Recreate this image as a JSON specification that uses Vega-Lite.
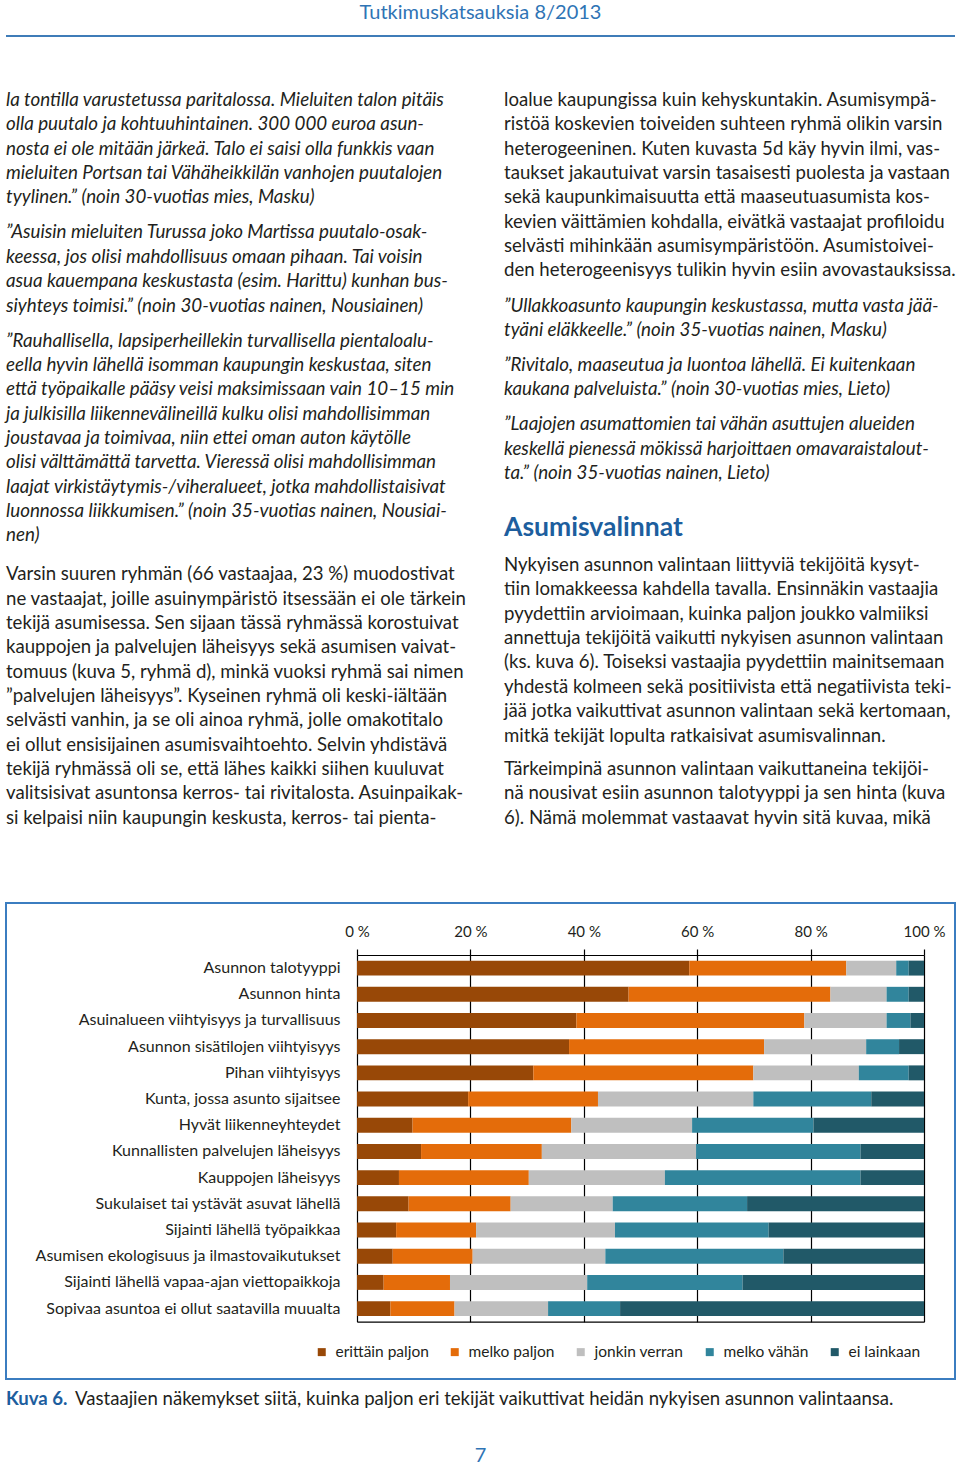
{
  "$schema": "https://vega.github.io/schema/vega-lite/v6.json",
  "padding": {"left": 5, "top": 0, "right": 5, "bottom": 0},
  "autosize": {"type": "pad"},
  "background": "white",
  "spacing": 0,
  "config": {"font": "Lato", "view": {"stroke": null}},
  "vconcat": [
    {
      "width": 949,
      "height": 902,
      "data": {"values": [
        {"col": "H", "line": -3.58, "kind": "header", "text": "Tutkimuskatsauksia 8/2013"},
        {"col": "L", "line": 0, "kind": "quote", "text": "la tontilla varustetussa paritalossa. Mieluiten talon pitäis"},
        {"col": "L", "line": 1, "kind": "quote", "text": "olla puutalo ja kohtuuhintainen. 300 000 euroa asun-"},
        {"col": "L", "line": 2, "kind": "quote", "text": "nosta ei ole mitään järkeä. Talo ei saisi olla funkkis vaan"},
        {"col": "L", "line": 3, "kind": "quote", "text": "mieluiten Portsan tai Vähäheikkilän vanhojen puutalojen"},
        {"col": "L", "line": 4, "kind": "quote", "text": "tyylinen.” (noin 30-vuotias mies, Masku)"},
        {"col": "L", "line": 5.44, "kind": "quote", "text": "”Asuisin mieluiten Turussa joko Martissa puutalo-osak-"},
        {"col": "L", "line": 6.44, "kind": "quote", "text": "keessa, jos olisi mahdollisuus omaan pihaan. Tai voisin"},
        {"col": "L", "line": 7.44, "kind": "quote", "text": "asua kauempana keskustasta (esim. Harittu) kunhan bus-"},
        {"col": "L", "line": 8.44, "kind": "quote", "text": "siyhteys toimisi.” (noin 30-vuotias nainen, Nousiainen)"},
        {"col": "L", "line": 9.88, "kind": "quote", "text": "”Rauhallisella, lapsiperheillekin turvallisella pientaloalu-"},
        {"col": "L", "line": 10.88, "kind": "quote", "text": "eella hyvin lähellä isomman kaupungin keskustaa, siten"},
        {"col": "L", "line": 11.88, "kind": "quote", "text": "että työpaikalle pääsy veisi maksimissaan vain 10–15 min"},
        {"col": "L", "line": 12.88, "kind": "quote", "text": "ja julkisilla liikennevälineillä kulku olisi mahdollisimman"},
        {"col": "L", "line": 13.88, "kind": "quote", "text": "joustavaa ja toimivaa, niin ettei oman auton käytölle"},
        {"col": "L", "line": 14.88, "kind": "quote", "text": "olisi välttämättä tarvetta. Vieressä olisi mahdollisimman"},
        {"col": "L", "line": 15.88, "kind": "quote", "text": "laajat virkistäytymis-/viheralueet, jotka mahdollistaisivat"},
        {"col": "L", "line": 16.88, "kind": "quote", "text": "luonnossa liikkumisen.” (noin 35-vuotias nainen, Nousiai-"},
        {"col": "L", "line": 17.88, "kind": "quote", "text": "nen)"},
        {"col": "L", "line": 19.48, "kind": "body", "text": "Varsin suuren ryhmän (66 vastaajaa, 23 %) muodostivat"},
        {"col": "L", "line": 20.48, "kind": "body", "text": "ne vastaajat, joille asuinympäristö itsessään ei ole tärkein"},
        {"col": "L", "line": 21.48, "kind": "body", "text": "tekijä asumisessa. Sen sijaan tässä ryhmässä korostuivat"},
        {"col": "L", "line": 22.48, "kind": "body", "text": "kauppojen ja palvelujen läheisyys sekä asumisen vaivat-"},
        {"col": "L", "line": 23.48, "kind": "body", "text": "tomuus (kuva 5, ryhmä d), minkä vuoksi ryhmä sai nimen"},
        {"col": "L", "line": 24.48, "kind": "body", "text": "”palvelujen läheisyys”. Kyseinen ryhmä oli keski-iältään"},
        {"col": "L", "line": 25.48, "kind": "body", "text": "selvästi vanhin, ja se oli ainoa ryhmä, jolle omakotitalo"},
        {"col": "L", "line": 26.48, "kind": "body", "text": "ei ollut ensisijainen asumisvaihtoehto. Selvin yhdistävä"},
        {"col": "L", "line": 27.48, "kind": "body", "text": "tekijä ryhmässä oli se, että lähes kaikki siihen kuuluvat"},
        {"col": "L", "line": 28.48, "kind": "body", "text": "valitsisivat asuntonsa kerros- tai rivitalosta. Asuinpaikak-"},
        {"col": "L", "line": 29.48, "kind": "body", "text": "si kelpaisi niin kaupungin keskusta, kerros- tai pienta-"},
        {"col": "R", "line": 0, "kind": "body", "text": "loalue kaupungissa kuin kehyskuntakin. Asumisympä-"},
        {"col": "R", "line": 1, "kind": "body", "text": "ristöä koskevien toiveiden suhteen ryhmä olikin varsin"},
        {"col": "R", "line": 2, "kind": "body", "text": "heterogeeninen. Kuten kuvasta 5d käy hyvin ilmi, vas-"},
        {"col": "R", "line": 3, "kind": "body", "text": "taukset jakautuivat varsin tasaisesti puolesta ja vastaan"},
        {"col": "R", "line": 4, "kind": "body", "text": "sekä kaupunkimaisuutta että maaseutuasumista kos-"},
        {"col": "R", "line": 5, "kind": "body", "text": "kevien väittämien kohdalla, eivätkä vastaajat profiloidu"},
        {"col": "R", "line": 6, "kind": "body", "text": "selvästi mihinkään asumisympäristöön. Asumistoivei-"},
        {"col": "R", "line": 7, "kind": "body", "text": "den heterogeenisyys tulikin hyvin esiin avovastauksissa."},
        {"col": "R", "line": 8.44, "kind": "quote", "text": "”Ullakkoasunto kaupungin keskustassa, mutta vasta jää-"},
        {"col": "R", "line": 9.44, "kind": "quote", "text": "tyäni eläkkeelle.” (noin 35-vuotias nainen, Masku)"},
        {"col": "R", "line": 10.88, "kind": "quote", "text": "”Rivitalo, maaseutua ja luontoa lähellä. Ei kuitenkaan"},
        {"col": "R", "line": 11.88, "kind": "quote", "text": "kaukana palveluista.” (noin 30-vuotias mies, Lieto)"},
        {"col": "R", "line": 13.32, "kind": "quote", "text": "”Laajojen asumattomien tai vähän asuttujen alueiden"},
        {"col": "R", "line": 14.32, "kind": "quote", "text": "keskellä pienessä mökissä harjoittaen omavaraistalout-"},
        {"col": "R", "line": 15.32, "kind": "quote", "text": "ta.” (noin 35-vuotias nainen, Lieto)"},
        {"col": "R", "line": 17.58, "kind": "heading", "text": "Asumisvalinnat"},
        {"col": "R", "line": 19.1, "kind": "body", "text": "Nykyisen asunnon valintaan liittyviä tekijöitä kysyt-"},
        {"col": "R", "line": 20.1, "kind": "body", "text": "tiin lomakkeessa kahdella tavalla. Ensinnäkin vastaajia"},
        {"col": "R", "line": 21.1, "kind": "body", "text": "pyydettiin arvioimaan, kuinka paljon joukko valmiiksi"},
        {"col": "R", "line": 22.1, "kind": "body", "text": "annettuja tekijöitä vaikutti nykyisen asunnon valintaan"},
        {"col": "R", "line": 23.1, "kind": "body", "text": "(ks. kuva 6). Toiseksi vastaajia pyydettiin mainitsemaan"},
        {"col": "R", "line": 24.1, "kind": "body", "text": "yhdestä kolmeen sekä positiivista että negatiivista teki-"},
        {"col": "R", "line": 25.1, "kind": "body", "text": "jää jotka vaikuttivat asunnon valintaan sekä kertomaan,"},
        {"col": "R", "line": 26.1, "kind": "body", "text": "mitkä tekijät lopulta ratkaisivat asumisvalinnan."},
        {"col": "R", "line": 27.47, "kind": "body", "text": "Tärkeimpinä asunnon valintaan vaikuttaneina tekijöi-"},
        {"col": "R", "line": 28.47, "kind": "body", "text": "nä nousivat esiin asunnon talotyyppi ja sen hinta (kuva"},
        {"col": "R", "line": 29.47, "kind": "body", "text": "6). Nämä molemmat vastaavat hyvin sitä kuvaa, mikä"}
      ]},
      "resolve": {"scale": {"x": "independent"}},
      "layer": [
        {
          "transform": [{"filter": "datum.kind === 'body'"}],
          "mark": {"type": "text", "align": "left", "baseline": "middle", "fontSize": 18.6, "color": "#231f20"},
          "encoding": {
            "x": {"field": "col", "type": "nominal", "scale": {"type": "point", "domain": ["L", "R"], "range": [0, 498], "padding": 0}, "axis": null},
            "y": {"field": "line", "type": "quantitative", "scale": {"domain": [-4.107, 32.936], "reverse": true, "nice": false, "zero": false}, "axis": null},
            "text": {"field": "text"}
          }
        },
        {
          "transform": [{"filter": "datum.kind === 'quote'"}],
          "mark": {"type": "text", "align": "left", "baseline": "middle", "fontSize": 18.8, "fontStyle": "italic", "color": "#231f20"},
          "encoding": {
            "x": {"field": "col", "type": "nominal", "scale": {"type": "point", "domain": ["L", "R"], "range": [0, 498], "padding": 0}, "axis": null},
            "y": {"field": "line", "type": "quantitative", "axis": null},
            "text": {"field": "text"}
          }
        },
        {
          "transform": [{"filter": "datum.kind === 'heading'"}],
          "mark": {"type": "text", "align": "left", "baseline": "middle", "fontSize": 26.5, "fontWeight": "bold", "color": "#1d5e9e"},
          "encoding": {
            "x": {"field": "col", "type": "nominal", "scale": {"type": "point", "domain": ["L", "R"], "range": [0, 498], "padding": 0}, "axis": null},
            "y": {"field": "line", "type": "quantitative", "axis": null},
            "text": {"field": "text"}
          }
        },
        {
          "transform": [{"filter": "datum.kind === 'header'"}],
          "mark": {"type": "text", "align": "center", "baseline": "middle", "fontSize": 20, "color": "#2f74b5"},
          "encoding": {
            "x": {"field": "col", "type": "nominal", "scale": {"type": "point", "domain": ["H"]}, "axis": null},
            "y": {"field": "line", "type": "quantitative", "axis": null},
            "text": {"field": "text"}
          }
        },
        {
          "data": {"values": [{"line": -2.63}]},
          "mark": {"type": "rule", "color": "#3f7cb8", "strokeWidth": 2},
          "encoding": {
            "y": {"field": "line", "type": "quantitative", "axis": null}
          }
        }
      ]
    },
    {
      "width": 949,
      "height": 476,
      "view": {"stroke": "#3b7dc0", "strokeWidth": 2},
      "layer": [
        {
          "data": {"values": [
            {"f": "Asunnon talotyyppi", "l": "erittäin paljon", "k": 1, "v": 58.6},
            {"f": "Asunnon talotyyppi", "l": "melko paljon", "k": 2, "v": 27.7},
            {"f": "Asunnon talotyyppi", "l": "jonkin verran", "k": 3, "v": 8.8},
            {"f": "Asunnon talotyyppi", "l": "melko vähän", "k": 4, "v": 2.2},
            {"f": "Asunnon talotyyppi", "l": "ei lainkaan", "k": 5, "v": 2.7},
            {"f": "Asunnon hinta", "l": "erittäin paljon", "k": 1, "v": 47.9},
            {"f": "Asunnon hinta", "l": "melko paljon", "k": 2, "v": 35.6},
            {"f": "Asunnon hinta", "l": "jonkin verran", "k": 3, "v": 9.9},
            {"f": "Asunnon hinta", "l": "melko vähän", "k": 4, "v": 3.9},
            {"f": "Asunnon hinta", "l": "ei lainkaan", "k": 5, "v": 2.7},
            {"f": "Asuinalueen viihtyisyys ja turvallisuus", "l": "erittäin paljon", "k": 1, "v": 38.7},
            {"f": "Asuinalueen viihtyisyys ja turvallisuus", "l": "melko paljon", "k": 2, "v": 40.2},
            {"f": "Asuinalueen viihtyisyys ja turvallisuus", "l": "jonkin verran", "k": 3, "v": 14.5},
            {"f": "Asuinalueen viihtyisyys ja turvallisuus", "l": "melko vähän", "k": 4, "v": 4.2},
            {"f": "Asuinalueen viihtyisyys ja turvallisuus", "l": "ei lainkaan", "k": 5, "v": 2.4},
            {"f": "Asunnon sisätilojen viihtyisyys", "l": "erittäin paljon", "k": 1, "v": 37.4},
            {"f": "Asunnon sisätilojen viihtyisyys", "l": "melko paljon", "k": 2, "v": 34.4},
            {"f": "Asunnon sisätilojen viihtyisyys", "l": "jonkin verran", "k": 3, "v": 18.0},
            {"f": "Asunnon sisätilojen viihtyisyys", "l": "melko vähän", "k": 4, "v": 5.8},
            {"f": "Asunnon sisätilojen viihtyisyys", "l": "ei lainkaan", "k": 5, "v": 4.4},
            {"f": "Pihan viihtyisyys", "l": "erittäin paljon", "k": 1, "v": 31.1},
            {"f": "Pihan viihtyisyys", "l": "melko paljon", "k": 2, "v": 38.8},
            {"f": "Pihan viihtyisyys", "l": "jonkin verran", "k": 3, "v": 18.6},
            {"f": "Pihan viihtyisyys", "l": "melko vähän", "k": 4, "v": 8.8},
            {"f": "Pihan viihtyisyys", "l": "ei lainkaan", "k": 5, "v": 2.7},
            {"f": "Kunta, jossa asunto sijaitsee", "l": "erittäin paljon", "k": 1, "v": 19.6},
            {"f": "Kunta, jossa asunto sijaitsee", "l": "melko paljon", "k": 2, "v": 22.9},
            {"f": "Kunta, jossa asunto sijaitsee", "l": "jonkin verran", "k": 3, "v": 27.4},
            {"f": "Kunta, jossa asunto sijaitsee", "l": "melko vähän", "k": 4, "v": 20.8},
            {"f": "Kunta, jossa asunto sijaitsee", "l": "ei lainkaan", "k": 5, "v": 9.3},
            {"f": "Hyvät liikenneyhteydet", "l": "erittäin paljon", "k": 1, "v": 9.8},
            {"f": "Hyvät liikenneyhteydet", "l": "melko paljon", "k": 2, "v": 28.0},
            {"f": "Hyvät liikenneyhteydet", "l": "jonkin verran", "k": 3, "v": 21.3},
            {"f": "Hyvät liikenneyhteydet", "l": "melko vähän", "k": 4, "v": 21.4},
            {"f": "Hyvät liikenneyhteydet", "l": "ei lainkaan", "k": 5, "v": 19.5},
            {"f": "Kunnallisten palvelujen läheisyys", "l": "erittäin paljon", "k": 1, "v": 11.3},
            {"f": "Kunnallisten palvelujen läheisyys", "l": "melko paljon", "k": 2, "v": 21.3},
            {"f": "Kunnallisten palvelujen läheisyys", "l": "jonkin verran", "k": 3, "v": 27.2},
            {"f": "Kunnallisten palvelujen läheisyys", "l": "melko vähän", "k": 4, "v": 29.0},
            {"f": "Kunnallisten palvelujen läheisyys", "l": "ei lainkaan", "k": 5, "v": 11.2},
            {"f": "Kauppojen läheisyys", "l": "erittäin paljon", "k": 1, "v": 7.4},
            {"f": "Kauppojen läheisyys", "l": "melko paljon", "k": 2, "v": 22.9},
            {"f": "Kauppojen läheisyys", "l": "jonkin verran", "k": 3, "v": 24.0},
            {"f": "Kauppojen läheisyys", "l": "melko vähän", "k": 4, "v": 34.5},
            {"f": "Kauppojen läheisyys", "l": "ei lainkaan", "k": 5, "v": 11.2},
            {"f": "Sukulaiset tai ystävät asuvat lähellä", "l": "erittäin paljon", "k": 1, "v": 9.1},
            {"f": "Sukulaiset tai ystävät asuvat lähellä", "l": "melko paljon", "k": 2, "v": 18.0},
            {"f": "Sukulaiset tai ystävät asuvat lähellä", "l": "jonkin verran", "k": 3, "v": 18.0},
            {"f": "Sukulaiset tai ystävät asuvat lähellä", "l": "melko vähän", "k": 4, "v": 23.7},
            {"f": "Sukulaiset tai ystävät asuvat lähellä", "l": "ei lainkaan", "k": 5, "v": 31.2},
            {"f": "Sijainti lähellä työpaikkaa", "l": "erittäin paljon", "k": 1, "v": 6.9},
            {"f": "Sijainti lähellä työpaikkaa", "l": "melko paljon", "k": 2, "v": 14.1},
            {"f": "Sijainti lähellä työpaikkaa", "l": "jonkin verran", "k": 3, "v": 24.5},
            {"f": "Sijainti lähellä työpaikkaa", "l": "melko vähän", "k": 4, "v": 27.1},
            {"f": "Sijainti lähellä työpaikkaa", "l": "ei lainkaan", "k": 5, "v": 27.4},
            {"f": "Asumisen ekologisuus ja ilmastovaikutukset", "l": "erittäin paljon", "k": 1, "v": 6.3},
            {"f": "Asumisen ekologisuus ja ilmastovaikutukset", "l": "melko paljon", "k": 2, "v": 14.1},
            {"f": "Asumisen ekologisuus ja ilmastovaikutukset", "l": "jonkin verran", "k": 3, "v": 23.4},
            {"f": "Asumisen ekologisuus ja ilmastovaikutukset", "l": "melko vähän", "k": 4, "v": 31.4},
            {"f": "Asumisen ekologisuus ja ilmastovaikutukset", "l": "ei lainkaan", "k": 5, "v": 24.8},
            {"f": "Sijainti lähellä vapaa-ajan viettopaikkoja", "l": "erittäin paljon", "k": 1, "v": 4.7},
            {"f": "Sijainti lähellä vapaa-ajan viettopaikkoja", "l": "melko paljon", "k": 2, "v": 11.7},
            {"f": "Sijainti lähellä vapaa-ajan viettopaikkoja", "l": "jonkin verran", "k": 3, "v": 24.2},
            {"f": "Sijainti lähellä vapaa-ajan viettopaikkoja", "l": "melko vähän", "k": 4, "v": 27.4},
            {"f": "Sijainti lähellä vapaa-ajan viettopaikkoja", "l": "ei lainkaan", "k": 5, "v": 32.0},
            {"f": "Sopivaa asuntoa ei ollut saatavilla muualta", "l": "erittäin paljon", "k": 1, "v": 5.9},
            {"f": "Sopivaa asuntoa ei ollut saatavilla muualta", "l": "melko paljon", "k": 2, "v": 11.3},
            {"f": "Sopivaa asuntoa ei ollut saatavilla muualta", "l": "jonkin verran", "k": 3, "v": 16.5},
            {"f": "Sopivaa asuntoa ei ollut saatavilla muualta", "l": "melko vähän", "k": 4, "v": 12.7},
            {"f": "Sopivaa asuntoa ei ollut saatavilla muualta", "l": "ei lainkaan", "k": 5, "v": 53.6}
          ]},
          "mark": {"type": "bar"},
          "encoding": {
            "y": {
              "field": "f", "type": "nominal",
              "sort": ["Asunnon talotyyppi", "Asunnon hinta", "Asuinalueen viihtyisyys ja turvallisuus", "Asunnon sisätilojen viihtyisyys", "Pihan viihtyisyys", "Kunta, jossa asunto sijaitsee", "Hyvät liikenneyhteydet", "Kunnallisten palvelujen läheisyys", "Kauppojen läheisyys", "Sukulaiset tai ystävät asuvat lähellä", "Sijainti lähellä työpaikkaa", "Asumisen ekologisuus ja ilmastovaikutukset", "Sijainti lähellä vapaa-ajan viettopaikkoja", "Sopivaa asuntoa ei ollut saatavilla muualta"],
              "scale": {"range": [52, 418.7], "paddingInner": 0.43, "paddingOuter": 0.215},
              "axis": {"orient": "left", "offset": -351, "domain": false, "ticks": false, "grid": false, "labelPadding": 17, "labelFontSize": 16, "labelColor": "#231f20", "labelLimit": 0, "title": null}
            },
            "x": {
              "field": "v", "type": "quantitative", "stack": "zero",
              "scale": {"domain": [0, 100], "range": [351, 918], "nice": false},
              "axis": {"orient": "top", "offset": -52, "values": [0, 20, 40, 60, 80, 100], "labelExpr": "datum.value + ' %'", "grid": true, "gridColor": "#000000", "gridWidth": 1.2, "gridOpacity": 1, "domain": true, "domainColor": "#000000", "domainWidth": 1.2, "ticks": true, "tickColor": "#000000", "tickSize": 6, "tickWidth": 1.2, "labelPadding": 10, "labelFontSize": 15, "labelColor": "#231f20", "labelFlush": false, "title": null}
            },
            "color": {
              "field": "l", "type": "nominal",
              "scale": {"domain": ["erittäin paljon", "melko paljon", "jonkin verran", "melko vähän", "ei lainkaan"], "range": ["#984807", "#e46c0a", "#bfbfbf", "#31859c", "#215968"]},
              "legend": {"orient": "none", "legendX": 308, "legendY": 1344, "direction": "horizontal", "title": null, "symbolType": "square", "symbolSize": 64, "symbolStrokeWidth": 0, "labelFontSize": 15.5, "labelColor": "#231f20", "labelLimit": 0, "columnPadding": 18, "labelOffset": 6, "padding": 0}
            },
            "order": {"field": "k", "type": "quantitative"}
          }
        },
        {
          "data": {"values": [{"v": 0}]},
          "mark": {"type": "point", "opacity": 0},
          "encoding": {
            "x": {"field": "v", "type": "quantitative", "axis": {"orient": "bottom", "offset": -57.3, "labels": false, "ticks": false, "grid": false, "domain": true, "domainColor": "#000000", "domainWidth": 1.2, "title": null}}
          }
        }
      ]
    },
    {
      "width": 949,
      "height": 86,
      "data": {"values": [
        {"slot": "kuva", "row": "cap", "text": "Kuva 6."},
        {"slot": "cap", "row": "cap", "text": "Vastaajien näkemykset siitä, kuinka paljon eri tekijät vaikuttivat heidän nykyisen asunnon valintaansa."},
        {"slot": "page", "row": "page", "text": "7"}
      ]},
      "resolve": {"scale": {"x": "independent"}},
      "layer": [
        {
          "transform": [{"filter": "datum.slot === 'kuva'"}],
          "mark": {"type": "text", "align": "left", "baseline": "middle", "fontSize": 18.6, "fontWeight": "bold", "color": "#1d5e9e"},
          "encoding": {
            "x": {"field": "slot", "type": "nominal", "scale": {"type": "point", "domain": ["kuva", "cap"], "range": [0, 69], "padding": 0}, "axis": null},
            "y": {"field": "row", "type": "nominal", "scale": {"type": "point", "domain": ["cap", "page"], "range": [19, 76], "padding": 0}, "axis": null},
            "text": {"field": "text"}
          }
        },
        {
          "transform": [{"filter": "datum.slot === 'cap'"}],
          "mark": {"type": "text", "align": "left", "baseline": "middle", "fontSize": 18.6, "color": "#231f20"},
          "encoding": {
            "x": {"field": "slot", "type": "nominal", "scale": {"type": "point", "domain": ["kuva", "cap"], "range": [0, 69], "padding": 0}, "axis": null},
            "y": {"field": "row", "type": "nominal", "axis": null},
            "text": {"field": "text"}
          }
        },
        {
          "transform": [{"filter": "datum.slot === 'page'"}],
          "mark": {"type": "text", "align": "center", "baseline": "middle", "fontSize": 20, "color": "#2f74b5"},
          "encoding": {
            "x": {"field": "slot", "type": "nominal", "scale": {"type": "point", "domain": ["page"]}, "axis": null},
            "y": {"field": "row", "type": "nominal", "axis": null},
            "text": {"field": "text"}
          }
        }
      ]
    }
  ]
}
